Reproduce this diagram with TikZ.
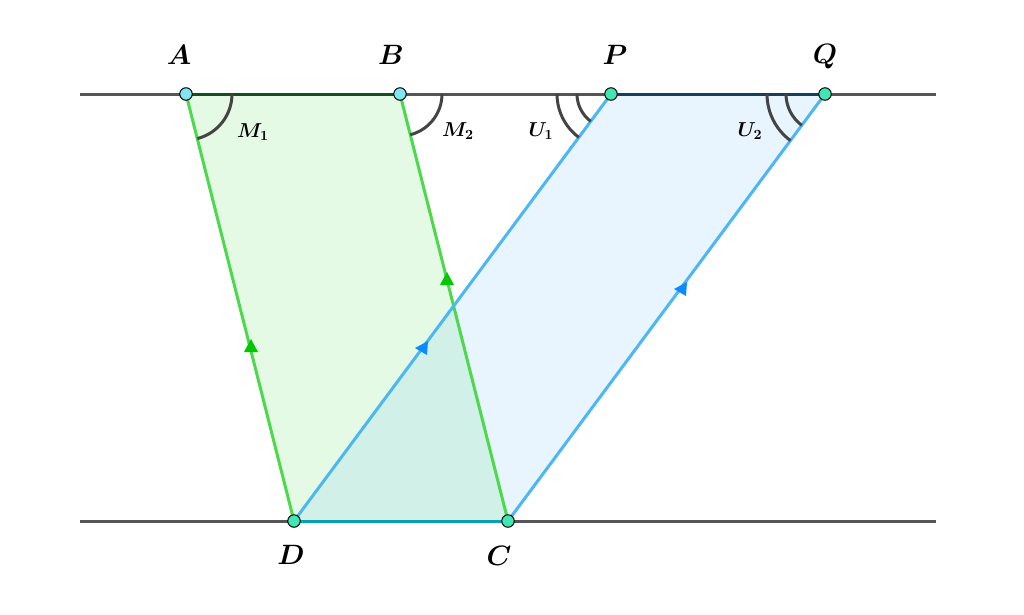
\documentclass[tikz,border=0pt]{standalone}
\usepackage{amsmath,bm,graphicx}
\usetikzlibrary{angles,calc}
\definecolor{greyline}{HTML}{555555}
\definecolor{gline}{HTML}{4CD94C}
\definecolor{bline}{HTML}{4DB6F5}
\definecolor{gfill}{HTML}{00CC00}
\definecolor{bfill}{HTML}{1A9CFF}
\definecolor{abcol}{HTML}{14501E}
\definecolor{pqcol}{HTML}{173F5C}
\definecolor{dccol}{HTML}{0AA0B4}
\definecolor{ptcyan}{HTML}{80E6F0}
\definecolor{ptaqua}{HTML}{40E6B4}
\definecolor{garrow}{HTML}{00C800}
\definecolor{barrow}{HTML}{0A8CFF}
\definecolor{arccol}{HTML}{444444}
\newcommand{\ptlab}[1]{\scalebox{1.35}{$\bm{#1}$}}
\newcommand{\anglab}[2]{\scalebox{1.4}{$\bm{#1}_{\bm{#2}}$}}
\tikzset{
  x=1pt,y=-1pt,
  refline/.style={draw=greyline,line width=3pt},
  edge/.style={line width=3pt},
  pt/.style={circle,draw=black,line width=1pt,inner sep=0pt,minimum size=12.5pt},
  lbl/.style={font=\fontsize{20.74}{25}\selectfont,inner sep=0pt},
  albl/.style={font=\fontsize{14.4}{17}\selectfont,inner sep=0pt},
  anglemark/.style={draw=arccol,line width=3pt},
}
\begin{document}
\begin{tikzpicture}
\useasboundingbox (0,0) rectangle (1024,614);
\coordinate (L1) at (80,94);
\coordinate (R1) at (936,94);
\coordinate (L2) at (80,521);
\coordinate (R2) at (936,521);
\coordinate (A) at (186,94);
\coordinate (B) at (400,94);
\coordinate (P) at (611,94);
\coordinate (Q) at (825,94);
\coordinate (D) at (294,521);
\coordinate (C) at (508,521);
% base lines
\draw[refline] (L1) -- (R1);
\draw[refline] (L2) -- (R2);
% fills
\fill[gfill,opacity=0.1] (A) -- (B) -- (C) -- (D) -- cycle;
\fill[bfill,opacity=0.1] (P) -- (Q) -- (C) -- (D) -- cycle;
% edges
\draw[edge,gline] (D) -- (A);
\draw[edge,gline] (C) -- (B);
\draw[edge,bline] (D) -- (P);
\draw[edge,bline] (C) -- (Q);
\draw[edge,abcol] (A) -- (B);
\draw[edge,pqcol] (P) -- (Q);
\draw[edge,dccol] (D) -- (C);
% angle marks
\pic[anglemark,angle radius=46pt] {angle = D--A--B};
\pic[anglemark,angle radius=42pt] {angle = C--B--R1};
\pic[anglemark,angle radius=54pt] {angle = L1--P--D};
\pic[anglemark,angle radius=34pt] {angle = L1--P--D};
\pic[anglemark,angle radius=58pt] {angle = P--Q--C};
\pic[anglemark,angle radius=39pt] {angle = P--Q--C};
% arrow marks
\coordinate (g1) at (251,346);
\coordinate (g2) at (447,279);
\coordinate (b1) at (424,348);
\coordinate (b2) at (683,289);
\fill[garrow] ($(g1)+(0,-7)$) -- ($(g1)+(-7,6)$) -- ($(g1)+(7,6)$) -- cycle;
\fill[garrow] ($(g2)+(0,-7)$) -- ($(g2)+(-7,6)$) -- ($(g2)+(7,6)$) -- cycle;
\fill[barrow] ($(b1)+(-9,0)$) -- ($(b1)+(4,-7)$) -- ($(b1)+(3,7)$) -- cycle;
\fill[barrow] ($(b2)+(-9,0)$) -- ($(b2)+(4,-7)$) -- ($(b2)+(3,7)$) -- cycle;
% points
\node[pt,fill=ptcyan] (nA) at (A) {};
\node[pt,fill=ptcyan] (nB) at (B) {};
\node[pt,fill=ptaqua] (nP) at (P) {};
\node[pt,fill=ptaqua] (nQ) at (Q) {};
\node[pt,fill=ptaqua] (nD) at (D) {};
\node[pt,fill=ptaqua] (nC) at (C) {};
% labels
\node[lbl] (tA) at (179,55) {\ptlab{A}};
\node[lbl] (tB) at (391,55) {\ptlab{B}};
\node[lbl] (tP) at (615,55) {\ptlab{P}};
\node[lbl] (tQ) at (825,57) {\ptlab{Q}};
\node[lbl] (tD) at (291,555) {\ptlab{D}};
\node[lbl] (tC) at (499,556) {\ptlab{C}};
\node[albl] (tM1) at (253,132) {\anglab{M}{1}};
\node[albl] (tM2) at (458,131) {\anglab{M}{2}};
\node[albl] (tU1) at (541,131) {\anglab{U}{1}};
\node[albl] (tU2) at (750,131) {\anglab{U}{2}};
\end{tikzpicture}
\end{document}
